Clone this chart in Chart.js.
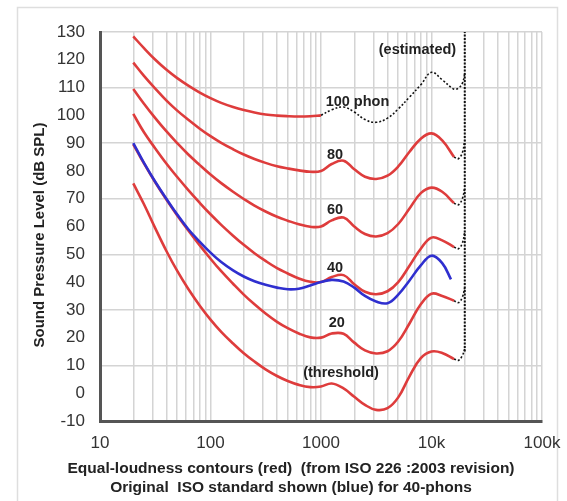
<!DOCTYPE html>
<html><head><meta charset="utf-8">
<script src="https://cdn.jsdelivr.net/npm/chart.js@4.4.1/dist/chart.umd.min.js"></script>
<style>html,body{margin:0;padding:0;background:#fff;}</style>
</head><body>
<canvas id="c" width="567" height="501"></canvas>
<script>
// ---- data ----
const freqHz = [20,25,31.5,40,50,63,80,100,125,160,200,250,315,400,500,630,800,1000,1250,1600,2000,2500,3150,4000,5000,6300,8000,10000,12500,16000];
const thresholdDb = [75.5,68.0,59.5,51.1,44.0,37.5,31.5,26.5,22.1,17.9,14.4,11.4,8.6,6.2,4.4,3.0,2.2,2.4,3.5,1.7,-1.3,-4.2,-6.0,-5.4,-1.5,6.0,12.6,15.0,14.5,12.3];
const phon20Db = [89.6,82.7,76.0,69.6,64.0,58.6,53.2,48.4,43.9,39.4,35.5,32.0,28.7,25.7,23.4,21.5,20.1,20.0,21.5,21.4,18.2,15.4,14.3,15.1,18.6,25.0,32.0,35.8,35.0,33.3];
const phon40Db = [100.5,93.9,88.2,82.6,77.8,73.1,68.5,64.4,60.6,56.7,53.4,50.4,47.6,45.0,43.1,41.3,40.1,40.0,41.8,42.5,39.2,36.5,35.6,36.7,40.0,45.8,52.0,56.0,55.0,52.6];
const phon60Db = [109.5,104.2,99.1,94.2,90.0,85.9,82.1,78.7,75.6,72.5,69.9,67.5,65.4,63.5,62.1,60.8,59.9,60.0,62.2,63.2,60.0,57.3,56.4,57.6,60.9,66.4,72.0,74.0,72.5,68.4];
const phon80Db = [119.0,114.2,109.7,105.3,101.7,98.4,95.2,92.5,90.1,87.8,85.9,84.3,82.9,81.7,80.9,80.2,79.7,80.0,82.5,83.7,80.6,77.9,77.1,78.3,81.6,86.8,91.6,93.5,91.0,85.0];
const phon100Hz = [20,25,31.5,40,50,63,80,100,125,160,200,250,315,400,500,630,800,1000];
const phon100Db = [128.4,124.2,120.1,116.4,113.4,110.7,108.2,106.2,104.5,103.0,101.9,101.0,100.3,99.9,99.7,99.6,99.7,100.0];
const phon100EstHz = [1000,1250,1600,2000,2500,3150,4000,5000,6300,8000,10000,12500,16000,17500,19000,20000];
const phon100EstDb = [100.0,102.0,103.0,101.2,98.5,97.5,99.0,102.3,106.5,111.0,115.5,112.8,109.4,109.8,111.5,115.0];
const origIsoHz = [20,25,31.5,40,50,63,80,100,125,160,200,250,315,400,500,630,800,1000,1250,1600,2000,2500,3150,4000,5000,6300,8000,10000,12500,15000];
const origIso40Db = [90.0,82.9,76.2,69.9,64.3,59.0,54.5,50.6,47.2,44.2,42.0,40.3,39.0,38.0,37.4,37.6,38.8,40.0,40.8,40.2,38.0,35.0,33.0,32.4,35.5,40.5,46.0,49.5,46.8,41.0];
const hookHz = [16000,17500,19000,20000];
const thresholdHookDb = [12.3,11.8,13.5,16.0];
const phon20HookDb = [33.3,32.6,34.5,38.0];
const phon40HookDb = [52.6,52.0,54.0,58.0];
const phon60HookDb = [68.4,67.8,70.0,74.0];
const phon80HookDb = [85.0,84.4,86.5,91.0];
const limitHz = [20000,20000];
const limitDb = [15,130];

const xDecades = [10,100,1000,10000];
const xMultipliers = [1,2,3,4,5,6,7,8,9];
const xTop = 100000;
const xLabelValues = [10,100,1000,10000,100000];
const xLabelTexts = ['10','100','1000','10k','100k'];

const curveLabelTexts = ['100 phon','(estimated)','80','60','40','20','(threshold)'];
const curveLabelHz = [2138,7465,1340,1340,1340,1390,1517];
const curveLabelDb = [104.9,123.5,85.7,65.9,44.9,25.1,7.2];

const yTitle = 'Sound Pressure Level (dB SPL)';
const footerLines = ['Equal-loudness contours (red)  (from ISO 226 :2003 revision)',
                     'Original  ISO standard shown (blue) for 40-phons'];

// ---- chart ----
const FAMILY = "'Liberation Sans', Arial, sans-serif";
Chart.defaults.font.family = FAMILY;
const RED = '#de3c3c', BLUE = '#2f2fcf', DOT = '#111';
const xGridHz = xDecades.flatMap(d => xMultipliers.map(m => d * m)).concat([xTop]);
const pts = (xs, ys) => xs.map((x, i) => ({x: x, y: ys[i]}));

function solid(label, xs, ys, color) {
  return {label, data: pts(xs, ys), borderColor: color, borderWidth: 2.6, pointRadius: 0, tension: 0.4, fill: false};
}
function dotted(label, xs, ys) {
  return {label, data: pts(xs, ys), borderColor: DOT, borderWidth: 1.6, borderDash: [2, 2], pointRadius: 0, tension: 0.4, fill: false};
}

const framePlugin = {
  id: 'frame',
  beforeDraw(chart) {
    const c = chart.ctx;
    c.save();
    c.fillStyle = '#fff';
    c.fillRect(0, 0, chart.width, chart.height);
    c.strokeStyle = '#dedede';
    c.lineWidth = 1.5;
    c.strokeRect(17.5, 7.5, 540, 520);
    c.restore();
  }
};
const labelPlugin = {
  id: 'curveLabels',
  afterDatasetsDraw(chart) {
    const c = chart.ctx, xs = chart.scales.x, ys = chart.scales.y;
    c.save();
    c.font = 'bold 14.5px ' + FAMILY;
    c.fillStyle = '#222';
    c.textAlign = 'center';
    c.textBaseline = 'middle';
    curveLabelTexts.forEach((t, i) => {
      c.fillText(t, xs.getPixelForValue(curveLabelHz[i]), ys.getPixelForValue(curveLabelDb[i]));
    });
    c.restore();
  }
};
const textPlugin = {
  id: 'titles',
  afterDraw(chart) {
    const c = chart.ctx;
    c.save();
    c.fillStyle = '#222';
    c.textAlign = 'center';
    c.textBaseline = 'middle';
    c.font = 'bold 15.5px ' + FAMILY;
    c.fillText(footerLines[0], 291, 469);
    c.fillText(footerLines[1], 291, 488);
    c.font = 'bold 15px ' + FAMILY;
    c.translate(40, 235);
    c.rotate(-Math.PI / 2);
    c.fillText(yTitle, 0, 0);
    c.restore();
  }
};

new Chart(document.getElementById('c'), {
  type: 'line',
  data: {
    datasets: [
      solid('Original ISO 40 phon', origIsoHz, origIso40Db, BLUE),
      solid('threshold', freqHz, thresholdDb, RED),
      solid('20 phon', freqHz, phon20Db, RED),
      solid('40 phon', freqHz, phon40Db, RED),
      solid('60 phon', freqHz, phon60Db, RED),
      solid('80 phon', freqHz, phon80Db, RED),
      solid('100 phon', phon100Hz, phon100Db, RED),
      dotted('100 phon (estimated)', phon100EstHz, phon100EstDb),
      dotted('threshold ext', hookHz, thresholdHookDb),
      dotted('20 ext', hookHz, phon20HookDb),
      dotted('40 ext', hookHz, phon40HookDb),
      dotted('60 ext', hookHz, phon60HookDb),
      dotted('80 ext', hookHz, phon80HookDb),
      {label: '20 kHz limit', data: pts(limitHz, limitDb), borderColor: DOT, borderWidth: 2, borderDash: [2, 1.5], pointRadius: 0, fill: false}
    ]
  },
  options: {
    responsive: false,
    animation: false,
    events: [],
    layout: {padding: {left: 27, right: 25, top: 32, bottom: 50}},
    plugins: {legend: {display: false}, tooltip: {enabled: false}, title: {display: false}},
    scales: {
      x: {
        type: 'logarithmic', min: 10, max: 100000,
        afterBuildTicks: s => { s.ticks = xGridHz.map(v => ({value: v})); },
        afterFit: s => { s.height = 30; s.paddingLeft = 0; s.paddingRight = 0; },
        ticks: {
          autoSkip: false, maxRotation: 0, minRotation: 0, padding: 12,
          font: {size: 17}, color: '#333',
          callback: v => { const i = xLabelValues.indexOf(v); return i >= 0 ? xLabelTexts[i] : ''; }
        },
        grid: {color: '#d4d4d4', lineWidth: 1.5, drawTicks: false},
        border: {color: '#555', width: 3}
      },
      y: {
        type: 'linear', min: -10, max: 130,
        afterFit: s => { s.width = 73; },
        ticks: {stepSize: 10, padding: 15, font: {size: 17}, color: '#333'},
        grid: {
          color: ctx => (ctx.tick && (Math.round(ctx.tick.value) + 10) % 20 === 0) ? '#d4d4d4' : 'rgba(0,0,0,0)',
          lineWidth: 1.5, drawTicks: false
        },
        border: {color: '#555', width: 3}
      }
    }
  },
  plugins: [framePlugin, labelPlugin, textPlugin]
});
</script>
</body></html>
